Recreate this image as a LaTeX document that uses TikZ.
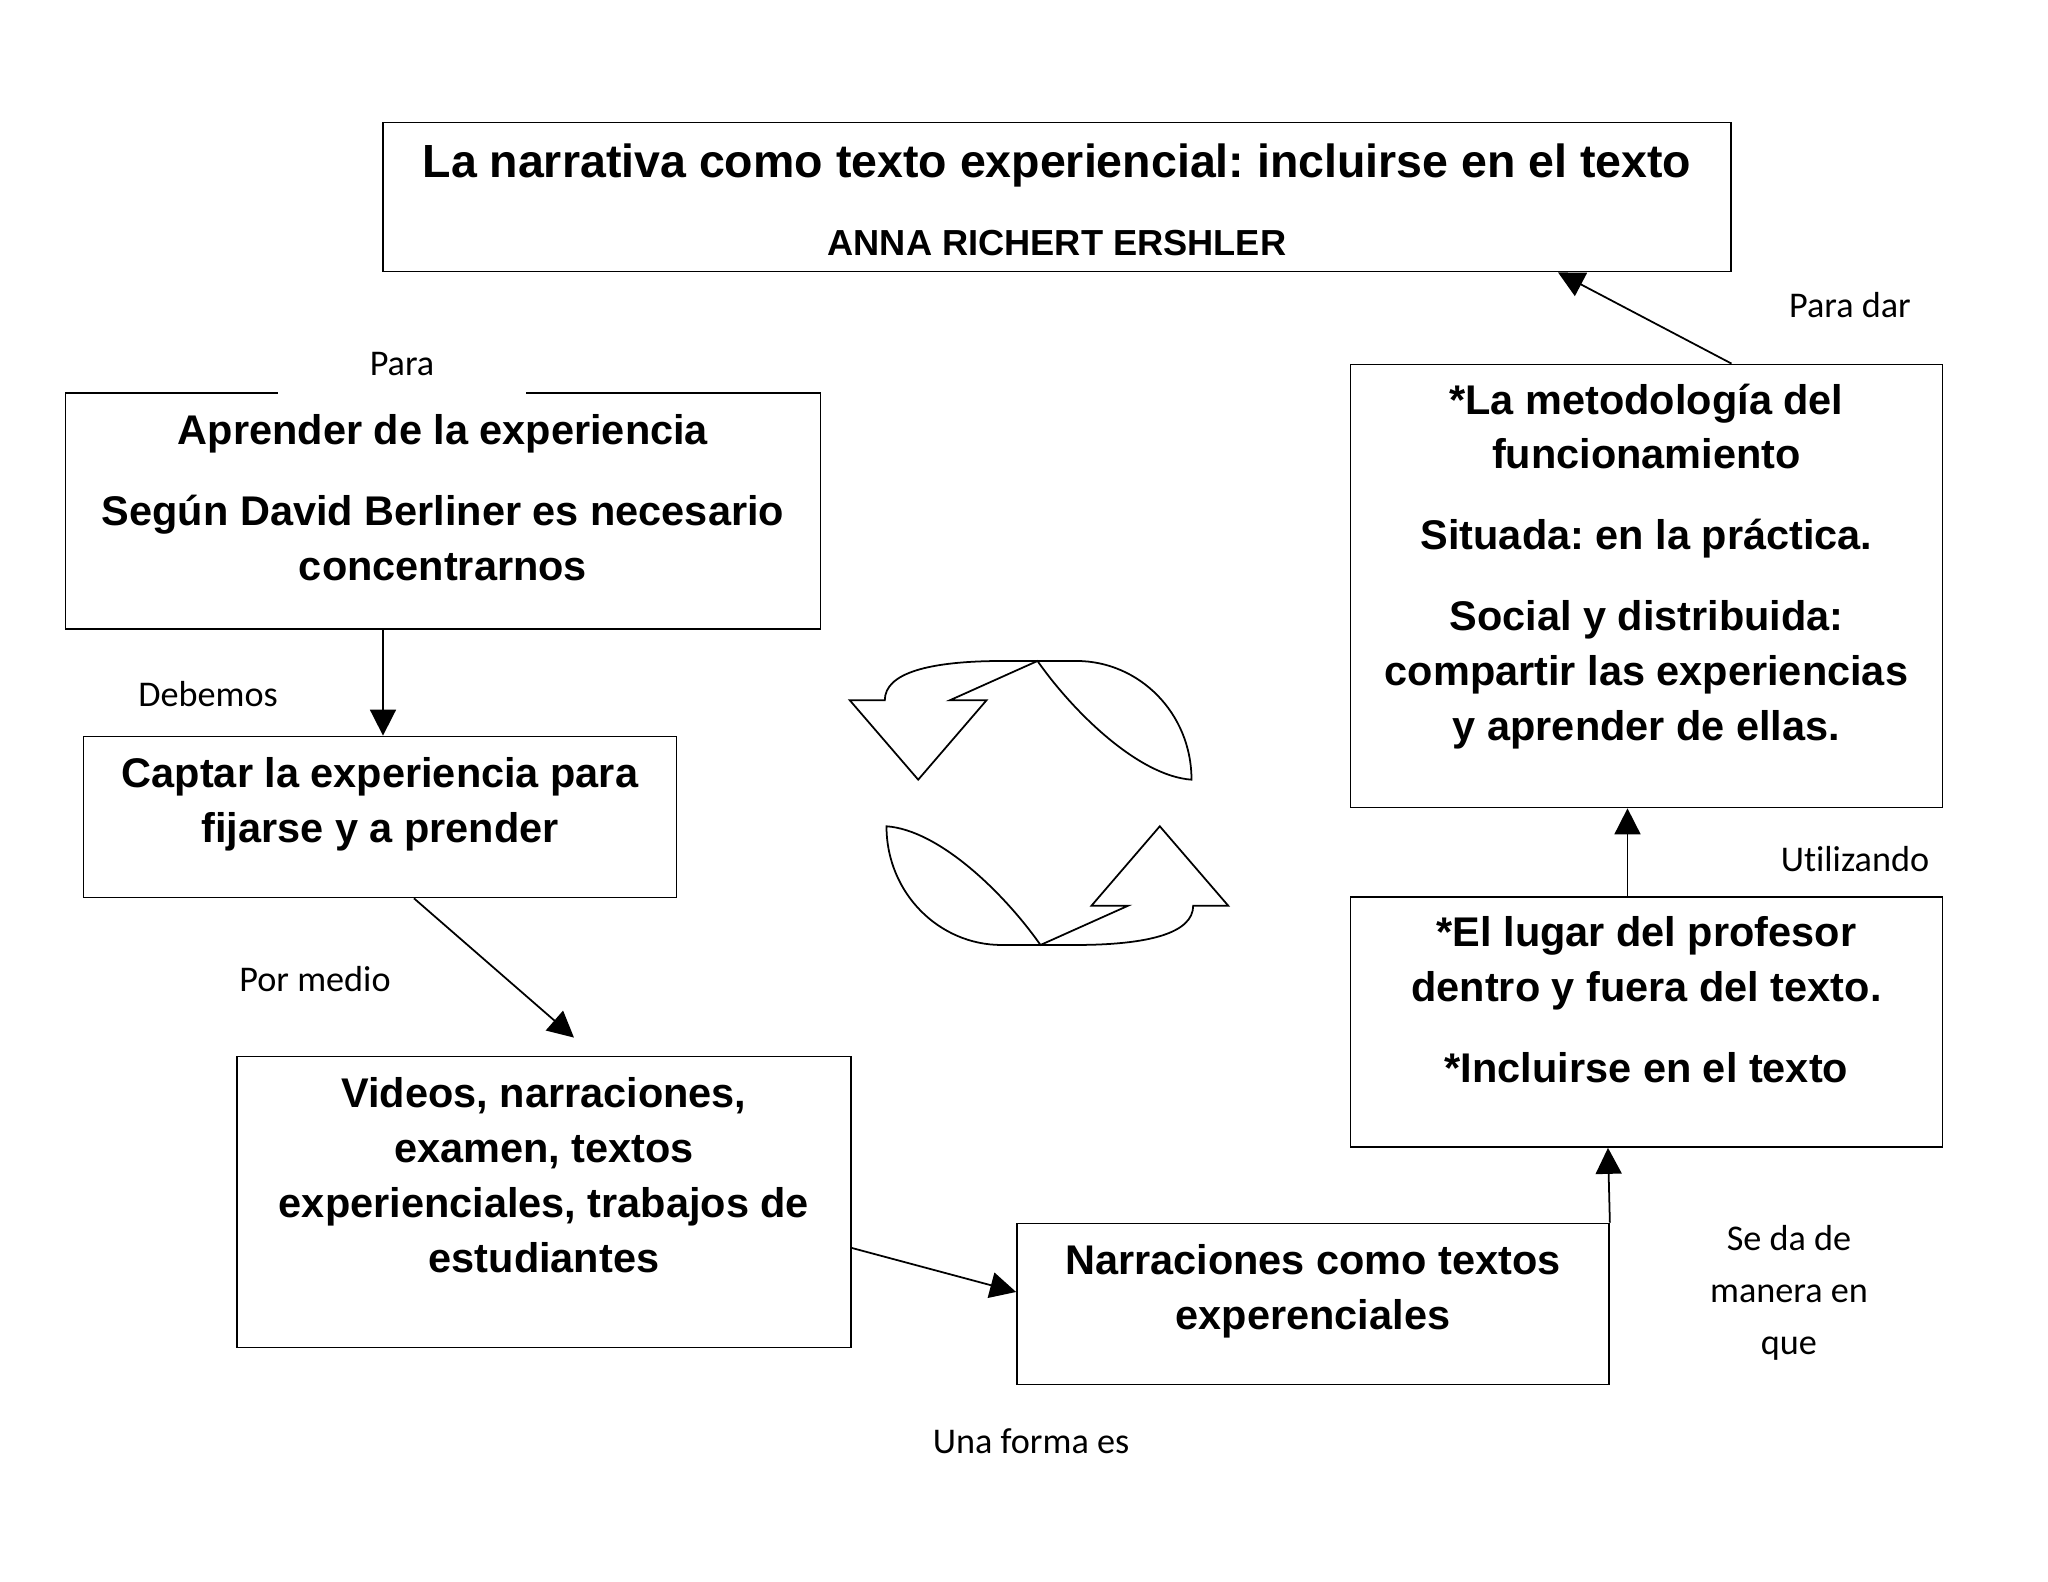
\documentclass[tikz,border=0pt]{standalone}
\usepackage{fontspec}
\setmainfont{Liberation Sans}
\newfontfamily\etiqfont[Ligatures=NoCommon]{Carlito}
\usetikzlibrary{arrows.meta,positioning,calc}
\newcommand{\pie}[1]{\rule[-#1]{0pt}{0pt}}
\tikzset{
  card/.style={draw=black,fill=white,line width=0.5pt,inner sep=0pt,align=center,
               font=\frenchspacing\bfseries\fontsize{11.8}{15.6}\selectfont},
  etiqueta/.style={align=center,inner sep=0pt,font=\etiqfont\fontsize{10.3}{14.7}\selectfont},
  flecha/.style={-{Triangle[length=2.6mm,width=2.6mm]},line width=0.5pt,draw=black},
  pics/giro/.style={code={
    \draw[line width=0.5pt] (-0.015,1.42) .. controls (0.35,0.9) and (1.0,0.27) .. (1.525,0.233)
      .. controls (1.525,0.9) and (1.0,1.42) .. (0.375,1.42) -- (-0.358,1.42)
      .. controls (-1.1,1.42) and (-1.542,1.3) .. (-1.542,1.027)
      -- (-1.892,1.027) -- (-1.208,0.233) -- (-0.525,1.027) -- (-0.892,1.027) -- cycle;
  }}
}
\begin{document}
\begin{tikzpicture}[x=1cm,y=1cm]
    \path[use as bounding box] (0,0) rectangle (20.48,15.82);
    \node[card,minimum width=13.48cm,minimum height=1.49cm] (titulo) at (10.57,13.85)
      {{\fontsize{13.23}{16}\selectfont\rule{0pt}{11pt}La narrativa como texto experiencial: incluirse en el texto}\\[6.65pt]
       {\fontsize{10.3}{12}\selectfont ANNA RICHERT ERSHLER}};
    \node[card,minimum width=7.55cm,minimum height=2.36cm] (aprender) at (4.43,10.71)
      {Aprender de la experiencia\\[7.4pt]
       Según David Berliner es necesario\\concentrarnos\pie{7.6pt}};
    \node[card,minimum width=5.93cm,minimum height=1.61cm] (captar) at (3.80,7.65)
      {Captar la experiencia para\\fijarse y a prender\pie{9.5pt}};
    \node[card,minimum width=6.14cm,minimum height=2.91cm] (videos) at (5.44,3.80)
      {Videos, narraciones,\\examen, textos\\experienciales, trabajos de\\estudiantes\pie{15.5pt}};
    \node[card,minimum width=5.92cm,minimum height=1.61cm] (narraciones) at (13.13,2.78)
      {Narraciones como textos\\experenciales\pie{9.5pt}};
    \node[card,minimum width=5.92cm,minimum height=2.50cm] (lugar) at (16.465,5.60)
      {*El lugar del profesor\\dentro y fuera del texto.\\[7.4pt]
       *Incluirse en el texto\pie{12.7pt}};
    \node[card,minimum width=5.92cm,minimum height=4.43cm] (metodo) at (16.465,9.96)
      {*La metodología del\\funcionamiento\\[7.4pt]
       Situada: en la práctica.\\[7.4pt]
       Social y distribuida:\\compartir las experiencias\\y aprender de ellas.\pie{13.7pt}};
    \node[etiqueta,fill=white,minimum width=2.48cm,minimum height=0.64cm] (para) at (4.02,12.18) {Para};
    \node[etiqueta] (debemos) at (2.08,8.88) {Debemos};
    \node[etiqueta] (medio) at (3.15,6.03) {Por medio};
    \node[etiqueta] (forma) at (10.31,1.41) {Una forma es};
    \node[etiqueta] (manera) at (17.89,2.89) {Se da de\\manera en\\que};
    \node[etiqueta] (utilizando) at (18.55,7.23) {Utilizando};
    \node[etiqueta] (dar) at (18.50,12.77) {Para dar};
    \draw[flecha] ([xshift=-.6cm]aprender.south) -- ([xshift=.03cm]captar.north);
    \draw[flecha] ([xshift=.34cm]captar.south) -- ([xshift=.30cm,yshift=.18cm]videos.north);
    \draw[flecha] ([yshift=-.46cm]videos.east) -- ([yshift=.12cm]narraciones.west);
    \draw[flecha] (narraciones.north east) -- ([xshift=-.385cm]lugar.south);
    \draw[flecha] ([xshift=-.19cm]lugar.north) -- ([xshift=-.19cm]metodo.south);
    \draw[flecha] ([xshift=.85cm]metodo.north) -- ([xshift=5.01cm]titulo.south);
    \pic at (10.39,7.79) {giro};
    \pic[rotate=180] at (10.39,7.79) {giro};
  \end{tikzpicture}
\end{document}
